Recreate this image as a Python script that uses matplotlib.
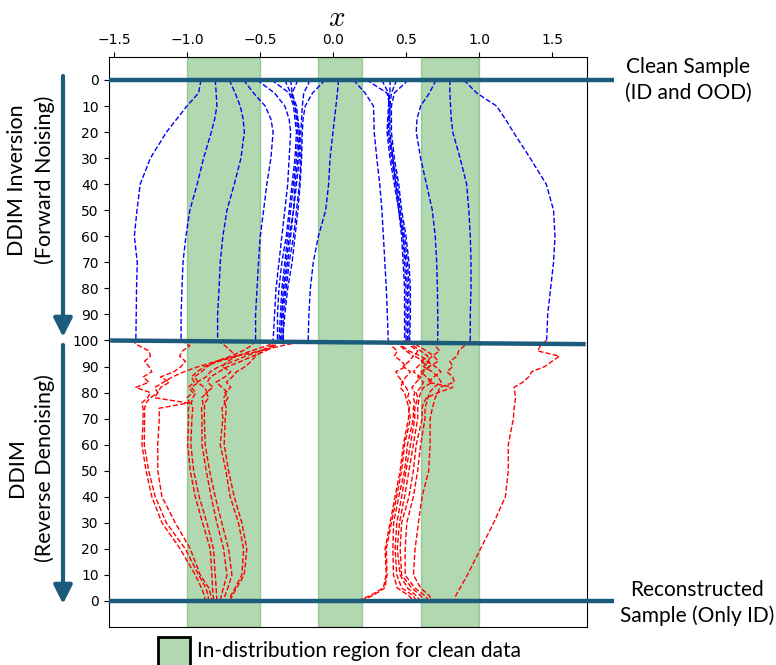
import matplotlib
matplotlib.use("Agg")
import matplotlib.pyplot as plt
from matplotlib.patches import Rectangle

# in-distribution intervals of the clean data
id_regions = [(-1.0, -0.5), (-0.1, 0.2), (0.6, 1.0)]

# forward (DDIM inversion) trajectories, x value at each step
blue_steps = [0, 5, 10, 15, 20, 30, 40, 50, 60, 70, 80, 90, 100]
blue_b1 = [-0.904, -0.92, -1.00, -1.07, -1.14, -1.25, -1.32, -1.342, -1.36, -1.34, -1.345, -1.347, -1.35]
blue_b2 = [-0.806, -0.80, -0.795, -0.81, -0.833, -0.886, -0.93, -0.98, -1.007, -1.027, -1.034, -1.04, -1.04]
blue_b3 = [-0.71, -0.67, -0.635, -0.615, -0.607, -0.63, -0.676, -0.726, -0.754, -0.772, -0.78, -0.79, -0.79]
blue_b4 = [-0.612, -0.544, -0.464, -0.425, -0.41, -0.425, -0.453, -0.475, -0.498, -0.51, -0.52, -0.53, -0.53]
blue_l1 = [-0.52, -0.40, -0.33, -0.30, -0.29, -0.30, -0.31, -0.33, -0.35, -0.37, -0.39, -0.40, -0.41]
blue_l2 = [-0.42, -0.30, -0.27, -0.26, -0.25, -0.26, -0.28, -0.30, -0.32, -0.35, -0.37, -0.38, -0.38]
blue_l3 = [-0.33, -0.29, -0.26, -0.25, -0.24, -0.25, -0.27, -0.29, -0.31, -0.33, -0.35, -0.36, -0.37]
blue_l4 = [-0.29, -0.28, -0.25, -0.24, -0.23, -0.24, -0.26, -0.27, -0.30, -0.32, -0.34, -0.35, -0.36]
blue_l5 = [-0.24, -0.28, -0.26, -0.245, -0.23, -0.23, -0.25, -0.27, -0.29, -0.31, -0.33, -0.35, -0.35]
blue_l6 = [-0.156, -0.20, -0.21, -0.215, -0.22, -0.22, -0.23, -0.25, -0.27, -0.30, -0.32, -0.34, -0.34]
blue_l7 = [-0.054, -0.14, -0.19, -0.205, -0.21, -0.215, -0.225, -0.24, -0.26, -0.28, -0.31, -0.33, -0.345]
blue_c1 = [0.038, 0.03, 0.02, 0.01, 0.0, -0.02, -0.03, -0.05, -0.10, -0.135, -0.155, -0.165, -0.17]
blue_r0 = [0.14, 0.22, 0.277, 0.28, 0.282, 0.30, 0.32, 0.335, 0.345, 0.355, 0.365, 0.372, 0.378]
blue_c2 = [0.23, 0.37, 0.39, 0.39, 0.39, 0.41, 0.43, 0.45, 0.47, 0.48, 0.49, 0.49, 0.49]
blue_c3 = [0.334, 0.38, 0.385, 0.38, 0.38, 0.40, 0.43, 0.46, 0.48, 0.49, 0.50, 0.50, 0.50]
blue_c4 = [0.391, 0.39, 0.38, 0.375, 0.37, 0.39, 0.42, 0.45, 0.48, 0.50, 0.51, 0.51, 0.51]
blue_c5 = [0.436, 0.40, 0.39, 0.385, 0.38, 0.41, 0.44, 0.46, 0.49, 0.51, 0.52, 0.52, 0.52]
blue_c6 = [0.516, 0.42, 0.40, 0.40, 0.40, 0.42, 0.45, 0.47, 0.50, 0.52, 0.53, 0.53, 0.525]
blue_r6 = [0.706, 0.66, 0.60, 0.575, 0.57, 0.60, 0.64, 0.68, 0.70, 0.71, 0.715, 0.717, 0.717]
blue_r7 = [0.80, 0.80, 0.805, 0.81, 0.82, 0.87, 0.915, 0.93, 0.94, 0.945, 0.945, 0.94, 0.94]
blue_r8 = [0.896, 0.984, 1.12, 1.18, 1.235, 1.35, 1.46, 1.51, 1.52, 1.51, 1.49, 1.47, 1.463]

# reverse (DDIM denoising) trajectories, step counts down from 100 to 0
red_steps = [100, 98, 96, 94, 92, 90, 88, 86, 84, 82, 80, 78, 76, 74, 70, 60, 50, 40, 30, 20, 10, 5, 2, 0]
red_la1 = [-1.38, -1.33, -1.26, -1.25, -1.29, -1.26, -1.24, -1.30, -1.26, -1.35, -1.25, -1.27, -1.31, -1.30, -1.30, -1.308, -1.28, -1.24, -1.171, -1.046, -0.943, -0.90, -0.88, -0.875]
red_la2 = [-0.18, -0.35, -0.50, -0.66, -0.80, -0.92, -1.02, -1.10, -1.16, -1.22, -1.20, -1.25, -1.28, -1.29, -1.29, -1.292, -1.262, -1.217, -1.141, -1.011, -0.92, -0.87, -0.855, -0.852]
red_lb = [-1.04, -0.98, -1.03, -1.05, -1.01, -1.04, -1.09, -1.18, -1.12, -1.18, -1.20, -1.22, -0.99, -1.19, -1.189, -1.20, -1.20, -1.171, -1.08, -0.977, -0.909, -0.85, -0.835, -0.829]
red_lc1 = [-0.38, -0.45, -0.56, -0.66, -0.78, -0.88, -0.93, -0.97, -0.95, -0.99, -0.96, -1.00, -0.98, -0.99, -0.989, -0.995, -0.977, -0.943, -0.893, -0.84, -0.829, -0.825, -0.82, -0.818]
red_lc2 = [-0.53, -0.56, -0.62, -0.70, -0.80, -0.86, -0.90, -0.95, -0.92, -0.97, -0.94, -0.96, -0.97, -0.96, -0.966, -0.973, -0.954, -0.916, -0.863, -0.818, -0.806, -0.80, -0.797, -0.795]
red_ld1 = [-0.37, -0.42, -0.50, -0.60, -0.68, -0.78, -0.84, -0.87, -0.93, -0.88, -0.86, -0.90, -0.89, -0.90, -0.897, -0.897, -0.868, -0.834, -0.795, -0.749, -0.726, -0.75, -0.765, -0.772]
red_ld2 = [-0.35, -0.40, -0.46, -0.55, -0.63, -0.72, -0.78, -0.84, -0.86, -0.82, -0.87, -0.85, -0.88, -0.88, -0.881, -0.875, -0.845, -0.806, -0.761, -0.715, -0.692, -0.72, -0.74, -0.749]
red_le1 = [-0.79, -0.74, -0.70, -0.66, -0.72, -0.76, -0.70, -0.74, -0.80, -0.76, -0.72, -0.75, -0.74, -0.76, -0.754, -0.772, -0.733, -0.704, -0.647, -0.612, -0.624, -0.67, -0.70, -0.715]
red_le2 = [-0.36, -0.41, -0.48, -0.53, -0.56, -0.60, -0.66, -0.69, -0.73, -0.70, -0.74, -0.72, -0.74, -0.73, -0.738, -0.745, -0.715, -0.676, -0.624, -0.59, -0.608, -0.66, -0.69, -0.704]
red_r1a = [0.38, 0.40, 0.44, 0.42, 0.47, 0.50, 0.43, 0.45, 0.48, 0.46, 0.49, 0.50, 0.51, 0.52, 0.517, 0.482, 0.46, 0.425, 0.391, 0.357, 0.364, 0.345, 0.254, 0.163]
red_r1b = [0.49, 0.46, 0.50, 0.55, 0.52, 0.48, 0.53, 0.50, 0.47, 0.50, 0.52, 0.51, 0.53, 0.52, 0.53, 0.49, 0.47, 0.435, 0.40, 0.365, 0.37, 0.355, 0.27, 0.18]
red_r2 = [0.50, 0.53, 0.58, 0.56, 0.62, 0.58, 0.55, 0.60, 0.57, 0.54, 0.56, 0.55, 0.56, 0.55, 0.55, 0.51, 0.49, 0.45, 0.415, 0.41, 0.414, 0.44, 0.52, 0.55]
red_r3 = [0.51, 0.55, 0.60, 0.65, 0.60, 0.66, 0.62, 0.58, 0.62, 0.60, 0.57, 0.58, 0.57, 0.56, 0.56, 0.53, 0.50, 0.47, 0.437, 0.425, 0.437, 0.47, 0.55, 0.57]
red_r4 = [0.52, 0.58, 0.64, 0.69, 0.72, 0.66, 0.60, 0.64, 0.68, 0.62, 0.60, 0.59, 0.585, 0.58, 0.58, 0.55, 0.52, 0.49, 0.455, 0.44, 0.46, 0.51, 0.57, 0.60]
red_r5 = [0.72, 0.70, 0.73, 0.68, 0.64, 0.70, 0.74, 0.69, 0.65, 0.82, 0.72, 0.64, 0.62, 0.61, 0.61, 0.57, 0.55, 0.52, 0.47, 0.46, 0.47, 0.54, 0.60, 0.63]
red_r6 = [0.50, 0.47, 0.52, 0.60, 0.66, 0.62, 0.68, 0.72, 0.74, 0.69, 0.66, 0.65, 0.64, 0.63, 0.63, 0.60, 0.58, 0.55, 0.505, 0.494, 0.494, 0.56, 0.63, 0.66]
red_r7 = [0.94, 0.90, 0.86, 0.85, 0.80, 0.82, 0.78, 0.82, 0.83, 0.73, 0.72, 0.70, 0.69, 0.68, 0.665, 0.665, 0.655, 0.61, 0.585, 0.562, 0.551, 0.60, 0.66, 0.68]
red_rf = [1.46, 1.42, 1.40, 1.55, 1.50, 1.45, 1.36, 1.34, 1.30, 1.24, 1.245, 1.25, 1.245, 1.24, 1.235, 1.20, 1.20, 1.18, 1.10, 1.01, 0.92, 0.87, 0.84, 0.83]

blue_paths = [blue_b1, blue_b2, blue_b3, blue_b4, blue_l1, blue_l2, blue_l3, blue_l4, blue_l5,
              blue_l6, blue_l7, blue_c1, blue_r0, blue_c2, blue_c3, blue_c4, blue_c5, blue_c6,
              blue_r6, blue_r7, blue_r8]
red_paths = [red_la1, red_la2, red_lb, red_lc1, red_lc2, red_ld1, red_ld2, red_le1, red_le2,
             red_r1a, red_r1b, red_r2, red_r3, red_r4, red_r5, red_r6, red_r7, red_rf]

y_ticks = list(range(0, 201, 10))
y_labels = [str(v) for v in range(0, 101, 10)] + [str(v) for v in range(90, -1, -10)]

TEAL = "#1b5b7c"
FONT = "Lato"

plt.rcParams["mathtext.fontset"] = "cm"

fig = plt.figure(figsize=(7.76, 6.65), dpi=100)
ax = fig.add_axes([0.140, 0.0567, 0.617, 0.8576])

for lo, hi in id_regions:
    ax.axvspan(lo, hi, color="green", alpha=0.3, zorder=0)

for xs in blue_paths:
    ax.plot(xs, blue_steps, "--", color="blue", lw=1, zorder=2)

red_y = [200 - r for r in red_steps]
for xs in red_paths:
    ax.plot(xs, red_y, "--", color="red", lw=1, zorder=2)

x_lo, x_hi = -1.536, 1.742
# marker lines for start / turning point / end
ax.plot([x_lo, 1.925], [0, 0], color=TEAL, lw=3.2, clip_on=False, zorder=5, solid_capstyle="butt")
ax.plot([-1.525, 1.73], [100, 101.4], color=TEAL, lw=3.2, clip_on=False, zorder=5, solid_capstyle="butt")
ax.plot([x_lo, 1.925], [200, 200], color=TEAL, lw=3.2, clip_on=False, zorder=5, solid_capstyle="butt")

ax.set_xlim(x_lo, x_hi)
ax.set_ylim(210.1, -8.83)
ax.xaxis.tick_top()
ax.xaxis.set_label_position("top")
ax.set_xlabel("$x$", fontsize=21)
ax.xaxis.set_label_coords(0.477, 1.055)
ax.set_yticks(y_ticks)
ax.set_yticklabels(y_labels)

arrow = dict(arrowstyle="-|>", color=TEAL, lw=3, mutation_scale=28, shrinkA=0, shrinkB=0)
ax.annotate("", xy=(63, 665 - 337), xytext=(63, 665 - 76), xycoords="figure pixels",
            textcoords="figure pixels", arrowprops=arrow, annotation_clip=False)
ax.annotate("", xy=(63, 665 - 604), xytext=(63, 665 - 345), xycoords="figure pixels",
            textcoords="figure pixels", arrowprops=arrow, annotation_clip=False)

fig.text(31 / 776, 1 - 180 / 665, "DDIM Inversion\n(Forward Noising)", rotation=90,
         ha="center", va="center", fontsize=15.5, family=FONT, multialignment="center",
         linespacing=1.4)
fig.text(31 / 776, 1 - 468 / 665, "DDIM\n(Reverse Denoising)", rotation=90,
         ha="center", va="center", fontsize=15.5, family=FONT, multialignment="center",
         linespacing=1.4)
fig.text(688 / 776, 1 - 80 / 665, "Clean Sample\n(ID and OOD)", ha="center", va="center",
         fontsize=15, family=FONT, multialignment="center", linespacing=1.35)
fig.text(697 / 776, 1 - 603 / 665, "Reconstructed\nSample (Only ID)", ha="center", va="center",
         fontsize=15, family=FONT, multialignment="center", linespacing=1.35)

fig.add_artist(Rectangle((158 / 776, -0.01), 32 / 776, 28 / 665 + 0.01, transform=fig.transFigure,
                         facecolor="#b2d8b2", edgecolor="black", lw=2, clip_on=False))
fig.text(197 / 776, 1 - 651 / 665, "In-distribution region for clean data", va="center",
         fontsize=15, family=FONT)

fig.savefig("out.png", dpi=100)
